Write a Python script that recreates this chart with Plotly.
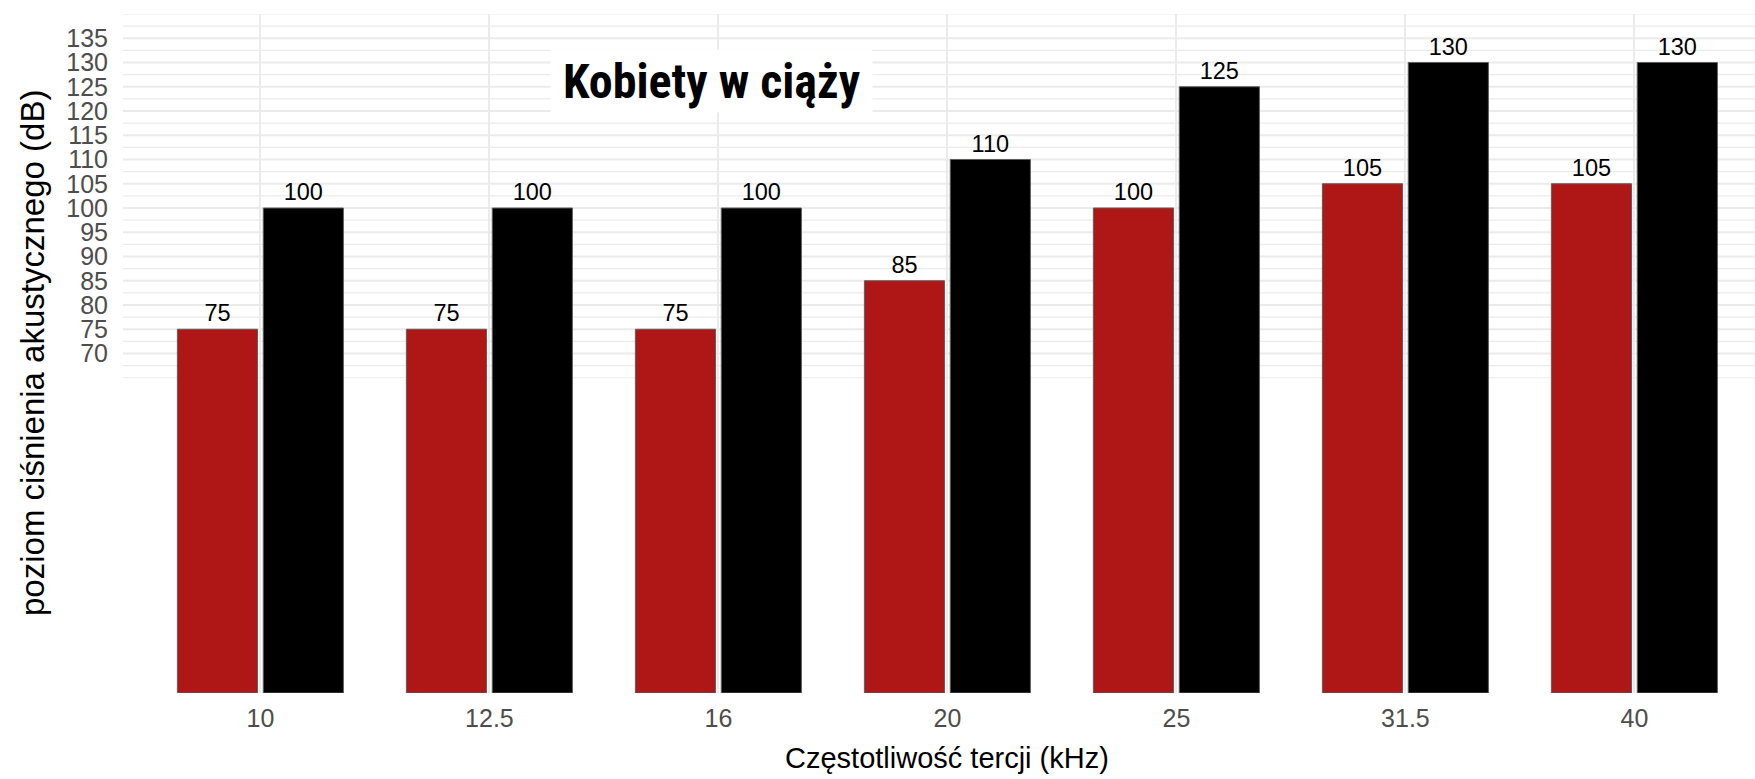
import plotly.graph_objects as go

# ---- data ----
categories = ["10", "12.5", "16", "20", "25", "31.5", "40"]
series_red = [75, 75, 75, 85, 100, 105, 105]
series_black = [100, 100, 100, 110, 125, 130, 130]
y_tick_values = [70, 75, 80, 85, 90, 95, 100, 105, 110, 115, 120, 125, 130, 135]
y_major_grid = [70, 75, 80, 85, 90, 95, 100, 105, 110, 115, 120, 125, 130, 135]
y_minor_grid = [65, 67.5, 72.5, 77.5, 82.5, 87.5, 92.5, 97.5, 102.5, 107.5,
                112.5, 117.5, 122.5, 127.5, 132.5, 137.5, 140]
title_text = "Kobiety w ciąży"
x_title = "Częstotliwość tercji (kHz)"
y_title = "poziom ciśnienia akustycznego (dB)"

W, H = 1755, 779
ML, MT, MB, MR = 123, 14, 86, 0

RED = "#AF1717"
GRID = "#EBEBEB"
TICK_COL = "#4D4D4D"
FONT = "Liberation Sans, Arial, Helvetica, sans-serif"

fig = go.Figure()
fig.add_trace(go.Bar(
    x=categories, y=series_red, name="seria 1",
    marker=dict(color=RED, line=dict(color="#5E5E5E", width=1)),
    text=[str(v) for v in series_red], textposition="outside",
    textfont=dict(family=FONT, size=23.5, color="black"),
    cliponaxis=False,
))
fig.add_trace(go.Bar(
    x=categories, y=series_black, name="seria 2",
    marker=dict(color="black", line=dict(color="#5E5E5E", width=1)),
    text=[str(v) for v in series_black], textposition="outside",
    textfont=dict(family=FONT, size=23.5, color="black"),
    cliponaxis=False,
))

shapes = []
for v in y_major_grid:
    shapes.append(dict(type="line", xref="paper", x0=0, x1=1, yref="y", y0=v, y1=v,
                       line=dict(color=GRID, width=2), layer="below"))
for v in y_minor_grid:
    shapes.append(dict(type="line", xref="paper", x0=0, x1=1, yref="y", y0=v, y1=v,
                       line=dict(color=GRID, width=1.2), layer="below"))

PW = W - ML - MR
PH = H - MT - MB

annotations = [
    dict(text="<b>" + title_text + "</b>", xref="paper", yref="paper",
         x=(711 - ML) / PW, y=(H - MB - 81) / PH,
         xanchor="center", yanchor="middle", showarrow=False,
         bgcolor="white", width=321, height=62, borderpad=0,
         font=dict(family="Roboto Condensed, Liberation Sans Narrow, DejaVu Sans Condensed, sans-serif",
                   size=48, color="black")),
    dict(text=x_title, xref="paper", yref="paper",
         x=(947 - ML) / PW, y=(H - MB - 758) / PH,
         xanchor="center", yanchor="middle", showarrow=False,
         font=dict(family=FONT, size=29, color="black")),
    dict(text=y_title, xref="paper", yref="paper", textangle=-90,
         x=(32 - ML) / PW, y=(H - MB - 353) / PH,
         xanchor="center", yanchor="middle", showarrow=False,
         font=dict(family=FONT, size=33, color="black")),
]

cat_px = 229.0
x_right = -0.6 + PW / cat_px

fig.update_layout(
    width=W, height=H, autosize=False,
    margin=dict(l=ML, r=MR, t=MT, b=MB, pad=0),
    paper_bgcolor="white", plot_bgcolor="white",
    barmode="group", bargap=0.25, bargroupgap=0.0667,
    showlegend=False,
    shapes=shapes, annotations=annotations,
    font=dict(family=FONT),
)
fig.update_xaxes(
    type="category", range=[-0.6, x_right],
    showgrid=True, gridcolor=GRID, gridwidth=2,
    showline=False, zeroline=False, ticks="",
    tickfont=dict(family=FONT, size=25, color=TICK_COL),
    ticklabelstandoff=8,
)
fig.update_yaxes(
    range=[0, 140], tickvals=y_tick_values,
    ticktext=[str(v) for v in y_tick_values],
    showgrid=False, showline=False, zeroline=False, ticks="",
    tickfont=dict(family=FONT, size=25, color=TICK_COL),
    ticklabelstandoff=14,
)

fig.write_html(
    "out.html",
    config={"displayModeBar": False},
    post_script="document.body.style.margin='0';document.body.style.overflow='hidden';",
)
